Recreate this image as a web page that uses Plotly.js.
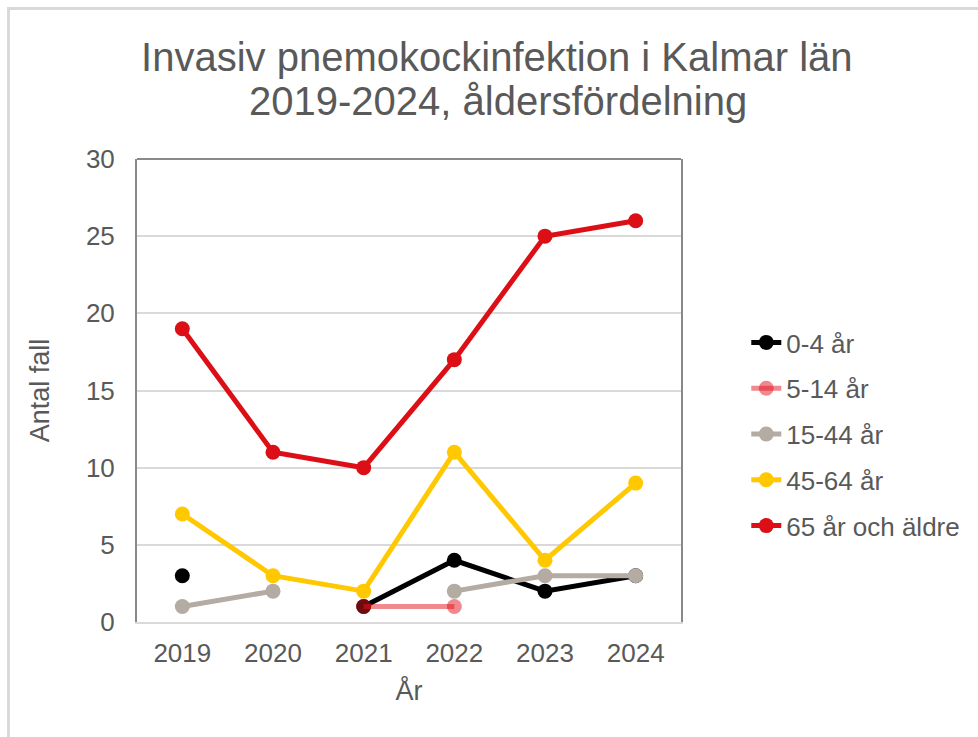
<!DOCTYPE html>
<html>
<head>
<meta charset="utf-8">
<script src="https://cdn.plot.ly/plotly-3.0.1.min.js"></script>
<style>
  html, body { margin:0; padding:0; background:#fff; }
  #wrap { position:relative; width:978px; height:737px; overflow:hidden; }
  #chart { position:absolute; left:0; top:0; width:978px; height:737px; }
  #frame { position:absolute; left:7px; top:7px; width:1000px; height:800px;
           border-top:3px solid #d9d9d9; border-left:3px solid #d9d9d9; pointer-events:none; }
</style>
</head>
<body>
<div id="wrap">
  <div id="chart"></div>
  <div id="frame"></div>
</div>
<script>
const years = ['2019', '2020', '2021', '2022', '2023', '2024'];
const seriesNames = ['0-4 år', '5-14 år', '15-44 år', '45-64 år', '65 år och äldre'];
const age0to4   = [3, null, 1, 4, 2, 3];
const age5to14  = [null, null, 1, 1, null, null];
const age15to44 = [1, 2, null, 2, 3, 3];
const age45to64 = [7, 3, 2, 11, 4, 9];
const age65plus = [19, 11, 10, 17, 25, 26];
const yTicks = [0, 5, 10, 15, 20, 25, 30];
const titleLine1 = 'Invasiv pnemokockinfektion i Kalmar län';
const titleLine2 = '2019-2024, åldersfördelning';

const colors = ['#000000', 'rgba(225,20,30,0.5)', '#b4aba2', '#ffc800', '#dc0f17'];
const values = [age0to4, age5to14, age15to44, age45to64, age65plus];

const traces = values.map((v, i) => ({
  type: 'scatter',
  mode: 'lines+markers',
  x: years,
  y: v,
  name: seriesNames[i],
  legendgroup: 'g' + i,
  connectgaps: false,
  line: { color: colors[i], width: 5 },
  marker: { color: colors[i], size: 15 },
  hoverinfo: 'x+y+name'
}));

const font = 'Liberation Sans, Arial, sans-serif';
const grey = '#595959';
const layout = {
  width: 978, height: 737,
  paper_bgcolor: 'rgba(0,0,0,0)',
  plot_bgcolor: '#ffffff',
  margin: { l: 137, r: 297, t: 159, b: 115 },
  font: { family: font, color: grey, size: 26 },
  title: {
    text: titleLine1,
    font: { family: font, size: 40, color: grey },
    x: 0.508, xanchor: 'center',
    y: 1 - 57 / 737, yanchor: 'middle'
  },
  annotations: [{
    text: titleLine2,
    xref: 'paper', yref: 'paper',
    x: (498 - 137) / 544, xanchor: 'center',
    y: (622 - 101) / 463, yanchor: 'middle',
    showarrow: false,
    font: { family: font, size: 40, color: grey }
  }],
  xaxis: {
    type: 'category',
    categoryorder: 'array', categoryarray: years,
    showline: true, linecolor: '#d9d9d9', linewidth: 2,
    showgrid: false, ticks: '', ticklen: 0,
    ticklabelstandoff: 7,
    tickfont: { family: font, size: 26, color: grey },
    range: [-0.5, 5.5],
    title: { text: 'År', font: { family: font, size: 27, color: grey }, standoff: 14 }
  },
  yaxis: {
    range: [0, 30],
    tickvals: yTicks,
    showline: true, mirror: true, linecolor: '#898989', linewidth: 2,
    showgrid: true, gridcolor: '#d9d9d9', gridwidth: 2,
    zeroline: false, ticks: '',
    ticklabelstandoff: 15,
    tickfont: { family: font, size: 26, color: grey },
    title: { text: 'Antal fall', font: { family: font, size: 27, color: grey }, standoff: 28 }
  },
  shapes: [{
    type: 'line', xref: 'paper', yref: 'paper',
    x0: 0, x1: 1, y0: 1, y1: 1,
    line: { color: '#898989', width: 2 }
  }],
  legend: {
    x: 1.12, xanchor: 'left',
    y: 0.405, yanchor: 'middle',
    font: { family: font, size: 26, color: grey },
    tracegroupgap: 9,
    itemwidth: 30,
    bgcolor: 'rgba(0,0,0,0)'
  },
  showlegend: true
};

Plotly.newPlot('chart', traces, layout, { displayModeBar: false, staticPlot: true });
</script>
</body>
</html>
